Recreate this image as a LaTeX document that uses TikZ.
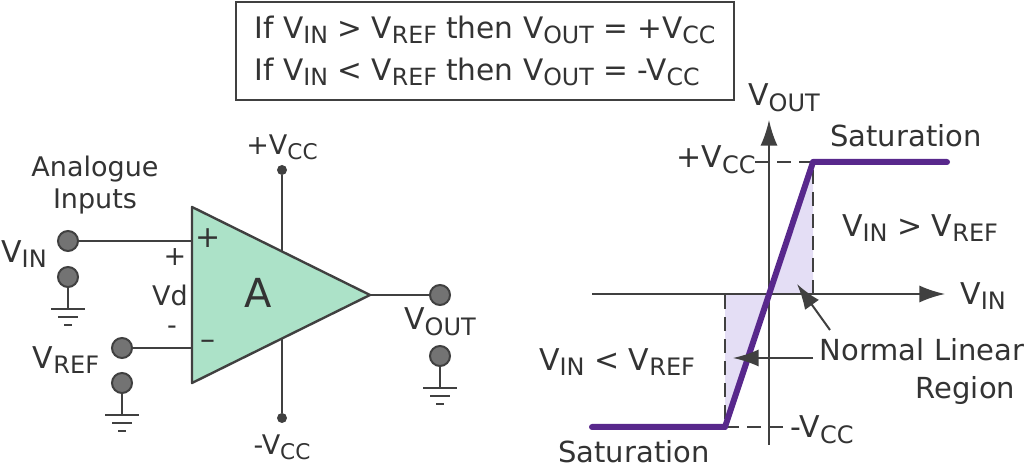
\documentclass[tikz,border=0pt]{standalone}
\usepackage{fontspec}
\setmainfont{DejaVu Sans}
\usetikzlibrary{arrows.meta, positioning}

\definecolor{ampfill}{RGB}{172,226,200}
\definecolor{curvecol}{RGB}{88,40,140}
\definecolor{regionfill}{RGB}{228,222,245}

\newcommand{\sV}[1]{V{\raisebox{-0.35ex}{\scalebox{0.8}{#1}}}}

\begin{document}
\begin{tikzpicture}[
  x=0.5pt, y=-0.5pt,
  wire/.style = {draw=black!75, line width=1pt},
  term/.style = {circle, draw=black!75, fill=black!55, line width=1pt, minimum size=10pt, inner sep=0pt},
  dot/.style = {circle, fill=black!75, minimum size=5pt, inner sep=0pt},
  lbl/.style = {text=black!80, font=\fontsize{13.5}{16}\selectfont, align=center, inner sep=1pt},
  curve/.style = {draw=curvecol, line width=3pt, line cap=round, line join=round},
  guide/.style = {draw=black!75, line width=1pt, dash pattern=on 7pt off 4pt},
  arrow/.style = {draw=black!75, line width=1pt, -{Latex[length=4.5mm, width=3mm]}},
  gnd/.pic = {
    \draw[wire] (-17,0) -- (17,0);
    \draw[wire] (-10,8) -- (10,8);
    \draw[wire] (-4,16) -- (4,16);
  }
]
\useasboundingbox (0,0) rectangle (1024,474);

% ---- rule box ----
\node[draw=black!75, line width=1pt, minimum width=249pt, minimum height=49pt,
      text=black!80, align=left, font=\fontsize{14.8}{21}\selectfont] (rules) at (485,51)
  {If \sV{IN} > \sV{REF} then \sV{OUT} = +\sV{CC}\\
   If \sV{IN} < \sV{REF} then \sV{OUT} = -\sV{CC}};

% ---- supply rails ----
\node[dot] (vccp) at (282,170) {};
\node[dot] (vccn) at (282,418) {};
\draw[wire] (vccp) -- (vccn);
\node[lbl] (lvccp) at (282,147) {+\sV{CC}};
\node[lbl] (lvccn) at (282,447) {-\sV{CC}};

% ---- op-amp ----
\coordinate (tl) at (192,207);
\coordinate (bl) at (192,383);
\coordinate (tip) at (370,295);
\draw[draw=black!75, line width=1.2pt, fill=ampfill, line join=round] (tl) -- (tip) -- (bl) -- cycle;
\node[lbl, font=\fontsize{20}{22}\selectfont] (gain) at (258,293) {A};
\node[lbl, font=\fontsize{15}{16}\selectfont] (pin) at (208,238) {+};
\node[lbl, font=\fontsize{15}{16}\selectfont] (nin) at (208,345) {--};

% ---- inputs ----
\node[term] (tin) at (68,241) {};
\node[term] (tref) at (122,348) {};
\draw[wire] (tin) -- (tin -| tl);
\draw[wire] (tref) -- (tref -| tl);
\node[term] (gin) at (68,277) {};
\node[term] (gref) at (122,383) {};
\coordinate (gin0) at (68,309);
\coordinate (gref0) at (122,415);
\draw[wire] (gin) -- (gin0);
\draw[wire] (gref) -- (gref0);
\pic at (gin0) {gnd};
\pic at (gref0) {gnd};
\node[lbl] (analog) at (95,185) {Analogue\\Inputs};
\node[lbl, font=\fontsize{15}{16}\selectfont] (lvin) at (24,254) {\sV{IN}};
\node[lbl, font=\fontsize{15}{16}\selectfont] (lvref) at (66,360) {\sV{REF}};
\node[lbl] (vdp) at (175,257) {+};
\node[lbl] (vd) at (170,295) {Vd};
\node[lbl] (vdn) at (172,330) {-};

% ---- output ----
\node[term] (tout) at (440,295) {};
\draw[wire] (tip) -- (tout);
\node[lbl, font=\fontsize{15}{16}\selectfont] (lvout) at (440,322) {\sV{OUT}};
\node[term] (gout) at (440,356) {};
\coordinate (gout0) at (440,388);
\draw[wire] (gout) -- (gout0);
\pic at (gout0) {gnd};

% ---- transfer curve ----
\coordinate (o) at (769,294);
\coordinate (up) at (813,162);
\coordinate (lo) at (725,427);
\fill[regionfill] (o) -- (up) -- (813,294) -- cycle;
\fill[regionfill] (o) -- (lo) -- (725,294) -- cycle;
\draw[arrow] (592,294) -- (945,294);
\draw[arrow] (769,445) -- (769,120);
\draw[guide] (755,162) -- (up) -- (813,294);
\draw[guide] (783,427) -- (lo) -- (725,294);
\draw[curve] (592,427) -- (lo) -- (up) -- (947,162);
\node[lbl, font=\fontsize{15}{16}\selectfont] (lvo) at (784,98) {\sV{OUT}};
\node[lbl, font=\fontsize{15}{16}\selectfont] (lvi) at (983,296) {\sV{IN}};
\node[lbl, font=\fontsize{15}{16}\selectfont] (lcp) at (716,160) {+\sV{CC}};
\node[lbl, font=\fontsize{15}{16}\selectfont] (lcn) at (822,430) {-\sV{CC}};
\node[lbl, font=\fontsize{14.5}{16}\selectfont] (sat1) at (906,136) {Saturation};
\node[lbl, font=\fontsize{14.5}{16}\selectfont] (sat2) at (634,452) {Saturation};
\node[lbl, font=\fontsize{15}{16}\selectfont] (gt) at (920,228) {\sV{IN} > \sV{REF}};
\node[lbl, font=\fontsize{15}{16}\selectfont] (lt) at (617,362) {\sV{IN} < \sV{REF}};
\node[lbl, align=center, font=\fontsize{14.5}{19}\selectfont] (region) at (922,372) {Normal Linear\\\hspace*{3em}Region};
\draw[arrow] (830,330) -- (797,284);
\draw[arrow] (813,358) -- (733,358);
\end{tikzpicture}
\end{document}
